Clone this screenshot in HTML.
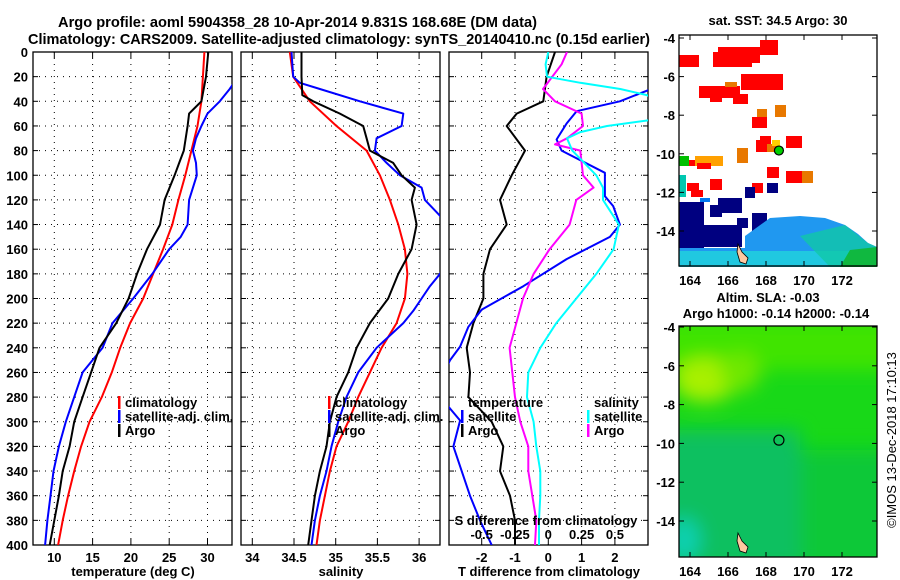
<!DOCTYPE html>
<html><head><meta charset="utf-8"><style>
body{margin:0;background:#fff;}
svg{display:block;font-family:"Liberation Sans",sans-serif;font-weight:bold;}
</style></head><body>
<svg id="c" width="900" height="580" viewBox="0 0 900 580" xmlns="http://www.w3.org/2000/svg">
<defs>
<clipPath id="cp1"><rect x="33" y="52" width="199" height="493"/></clipPath>
<clipPath id="cp2"><rect x="241" y="52" width="199" height="493"/></clipPath>
<clipPath id="cp3"><rect x="449" y="52" width="199" height="493"/></clipPath>
<clipPath id="cpm2"><rect x="679" y="326" width="198" height="231"/></clipPath>
<filter id="blur"><feGaussianBlur stdDeviation="9"/></filter>
</defs>
<text x="58" y="27" font-size="15" textLength="479" lengthAdjust="spacingAndGlyphs">Argo profile: aoml 5904358_28 10-Apr-2014 9.831S 168.68E (DM data)</text>
<text x="28" y="44" font-size="15" textLength="622" lengthAdjust="spacingAndGlyphs">Climatology: CARS2009. Satellite-adjusted climatology: synTS_20140410.nc (0.15d earlier)</text>
<g id="panels"></g>
<g id="maps"></g>
<text transform="translate(896,440) rotate(-90)" text-anchor="middle" font-size="13" font-weight="normal">©IMOS 13-Dec-2018 17:10:13</text>
</svg>
<script>
// ---- data ----
const depths = [0,20,40,60,80,100,120,140,160,180,200,220,240,260,280,300,320,340,360,380,400];
const tClim = [29.6,29.4,29.2,28.7,27.9,27.1,26.2,25.4,24.2,22.9,21.6,19.9,18.6,17.5,16.2,14.6,13.5,12.6,11.8,11.1,10.5];
const tSatDepths = [0,20,30,40,50,60,70,80,90,100,120,140,150,160,180,200,220,240,260,280,300,320,340,360,380,400];
const tSat = [35,34,32.9,31.6,30,29.2,28.5,28.1,28.5,28.6,27.6,27.4,26.5,25,22.8,20.3,17.6,16.3,13.7,12.6,11.5,10.6,9.9,9.5,9.1,8.8];
const tArgoDepths = [0,20,40,45,50,60,80,90,100,120,140,160,180,200,220,240,260,280,300,320,340,360,380,400];
const tArgo = [30.1,29.8,29.2,28.4,27.6,27.4,26.9,26.3,25.7,24.4,23.8,22.1,20.8,19.7,18.1,15.9,14.8,13.7,12.6,12,11.1,10.6,10,9.4];
const sClim = [34.45,34.49,34.69,35.01,35.37,35.53,35.65,35.75,35.83,35.86,35.83,35.73,35.55,35.41,35.27,35.15,35.01,34.93,34.87,34.81,34.77];
const sSatDepths = [0,20,25,30,40,50,60,70,80,90,100,110,120,130,140,160,180,190,200,210,220,240,260,280,300,320,340,360,380,400];
const sSat = [34.47,34.49,34.57,34.81,35.29,35.81,35.79,35.49,35.47,35.61,35.77,36.03,36.07,36.21,36.35,36.45,36.25,36.13,36.03,35.93,35.81,35.49,35.27,35.13,35.03,34.95,34.89,34.81,34.75,34.71];
const sArgoDepths = [0,20,35,40,50,60,70,80,90,100,110,120,140,160,180,200,220,240,260,280,300,320,340,360,380,400];
const sArgo = [34.59,34.59,34.6,34.73,35.05,35.33,35.37,35.41,35.69,35.79,35.95,35.91,35.97,35.91,35.75,35.63,35.41,35.25,35.15,35.01,34.93,34.89,34.81,34.75,34.71,34.67];
const dTArgoDepths = [0,20,40,50,60,80,100,120,140,160,180,200,220,240,260,280,300,320,340,360,380,400];
const dTArgo = [0.2,-0.05,-0.15,-0.95,-1.25,-0.7,-1.1,-1.45,-1.25,-1.75,-1.95,-1.95,-2.25,-2.45,-2.35,-2.4,-1.7,-1.35,-1.45,-1.15,-1.0,-1.0];
const dTSatDepths = [0,20,31,40,48,58,71,80,98,117,125,140,150,168,190,209,223,239,250,275,299,320,340,360,380,400];
const dTSat = [4,3.5,3,2.15,0.85,0.55,0.25,0.4,1.7,1.7,1.95,2.15,1.85,0.55,-0.75,-2,-2.4,-2.65,-2.95,-3.4,-2.65,-2.85,-2.6,-2.35,-2.05,-1.7];
const dSArgoDepths = [0,10,30,40,50,60,70,75,80,90,100,110,120,140,160,180,200,220,240,260,280,300,320,340,360,380,400];
const dSArgo = [0.14,0.10,-0.04,0.05,0.25,0.26,0.14,0.05,0.24,0.25,0.26,0.34,0.21,0.16,0.01,-0.11,-0.19,-0.24,-0.29,-0.27,-0.25,-0.21,-0.15,-0.15,-0.12,-0.09,-0.10];
const dSSatDepths = [0,10,20,25,30,35,45,55,60,65,70,80,100,110,120,140,160,180,200,220,240,260,280,300,320,340,360,380,400];
const dSSat = [0,-0.02,-0.01,0.24,0.54,0.74,0.9,0.78,0.44,0.24,0.14,0.18,0.36,0.41,0.41,0.53,0.49,0.36,0.21,0.06,-0.06,-0.15,-0.16,-0.11,-0.09,-0.06,-0.06,-0.07,-0.07];
const depthTicks = [0,20,40,60,80,100,120,140,160,180,200,220,240,260,280,300,320,340,360,380,400];
const tTicks = [10,15,20,25,30];
const sTicks = [34,34.5,35,35.5,36];
const dTTicks = [-2,-1,0,1,2];
const dSTicks = [-0.5,-0.25,0,0.25,0.5];
const lonTicks = [164,166,168,170,172];
const latTicks = [-4,-6,-8,-10,-12,-14];
const argoLon = 168.68, argoLat = -9.831;

// ---- axes ----
const NS="http://www.w3.org/2000/svg";
const yD = d => 52 + d*493/400;
const xT = t => 54.3 + (t-10)*7.66;
const xS = s => 252.3 + (s-34)*83.4;
const xDT = t => 548.3 + t*33.3;
const xDS = s => 548.3 + s*133.3;
const mx = lon => 690 + (lon-164)*19;
const myTop = lat => 38 + (-4-lat)*19.3;
const myBot = lat => 327 + (-4-lat)*19.4;

function el(tag, attrs, parent){const e=document.createElementNS(NS,tag);for(const k in attrs)e.setAttribute(k,attrs[k]);parent.appendChild(e);return e;}
function txt(parent,x,y,s,size,anchor){const t=el('text',{x:x,y:y,'font-size':size,'text-anchor':anchor||'start'},parent);t.textContent=s;return t;}

const P=document.getElementById('panels');
function panel(name,x0,ticks,xf,clip,label){
  const g=el('g',{},P);
  
  
  depthTicks.forEach(d=>{ if(d>0&&d<400){
    const l=el('line',{x1:x0,x2:x0+199,y1:yD(d),y2:yD(d),stroke:'#000','stroke-width':1,'stroke-dasharray':'1,5'},g);
    
    
    el('line',{x1:x0,x2:x0+5,y1:yD(d),y2:yD(d),stroke:'#000'},g);
    el('line',{x1:x0+194,x2:x0+199,y1:yD(d),y2:yD(d),stroke:'#000'},g);
  }});
  ticks.forEach(t=>{const x=xf(t);
    const l=el('line',{x1:x,x2:x,y1:52,y2:545,stroke:'#000','stroke-dasharray':'1,5'},g);
    
    
    el('line',{x1:x,x2:x,y1:52,y2:58,stroke:'#000'},g);
    el('line',{x1:x,x2:x,y1:539,y2:545,stroke:'#000'},g);
    const tl=txt(g,x,562,String(t),13,'middle');
    
    
  });
  const fr=el('rect',{x:x0,y:52,width:199,height:493,fill:'none',stroke:'#000','stroke-width':1.3},g);
  
  
  const xl=txt(g,x0+100,576,label,13,'middle');
  
  
  const cg=el('g',{'clip-path':'url(#'+clip+')'},g);
  return cg;
}
function series(g,name,ds,vs,xf,color,w){
  const pts=ds.map((d,i)=>xf(vs[i]).toFixed(1)+','+yD(d).toFixed(1)).join(' ');
  const p=el('polyline',{points:pts,fill:'none',stroke:color,'stroke-width':w||2,'stroke-linejoin':'round'},g);
  
  
}
function legend(parent,x,y,color,label){
  const g=el('g',{},parent);
  
  
  if(color) el('rect',{x:x-7,y:y-11,width:2.5,height:13,fill:color},g);
  txt(g,x,y,label,13);
}

// y labels
depthTicks.forEach(d=>{const t=txt(P,28,yD(d)+5,String(d),13,'end');
  
  });

const g1=panel('temperature-panel',33,tTicks,xT,'cp1','temperature (deg C)');
series(g1,'temp-climatology',depths,tClim,xT,'#ff0000');
series(g1,'temp-satellite-adj',tSatDepths,tSat,xT,'#0000ff');
series(g1,'temp-argo',tArgoDepths,tArgo,xT,'#000000');
legend(P,125,407,'#ff0000','climatology');
legend(P,125,421,'#0000ff','satellite-adj. clim.');
legend(P,125,435,'#000000','Argo');

const g2=panel('salinity-panel',241,sTicks,xS,'cp2','salinity');
series(g2,'sal-climatology',depths,sClim,xS,'#ff0000');
series(g2,'sal-satellite-adj',sSatDepths,sSat,xS,'#0000ff');
series(g2,'sal-argo',sArgoDepths,sArgo,xS,'#000000');
legend(P,335,407,'#ff0000','climatology');
legend(P,335,421,'#0000ff','satellite-adj. clim.');
legend(P,335,435,'#000000','Argo');

const g3=panel('difference-panel',449,dTTicks,xDT,'cp3','T difference from climatology');
series(g3,'dt-argo',dTArgoDepths,dTArgo,xDT,'#000000');
series(g3,'dt-satellite',dTSatDepths,dTSat,xDT,'#0000ff');
series(g3,'ds-argo',dSArgoDepths,dSArgo,xDS,'#ff00ff');
series(g3,'ds-satellite',dSSatDepths,dSSat,xDS,'#00ffff');
legend(P,468,407,null,'temperature');
legend(P,468,421,'#0000ff','satellite');
legend(P,468,435,'#000000','Argo');
legend(P,594,407,null,'salinity');
legend(P,594,421,'#00ffff','satellite');
legend(P,594,435,'#ff00ff','Argo');
const st=txt(P,546,525,'S difference from climatology',13,'middle');


dSTicks.forEach(s=>{const t=txt(P,xDS(s),539,String(s),13,'middle');
  
  });

// ---- maps ----
const M=document.getElementById('maps');
function mapAxes(g,top,yf){
  lonTicks.forEach(l=>{const x=mx(l);
    el('line',{x1:x,x2:x,y1:top,y2:top+5,stroke:'#000'},g);
    el('line',{x1:x,x2:x,y1:top+226,y2:top+231,stroke:'#000'},g);
    const t=txt(g,x,top+250,String(l),13,'middle');
    
    });
  latTicks.forEach(l=>{const y=yf(l);
    el('line',{x1:679,x2:684,y1:y,y2:y,stroke:'#000'},g);
    el('line',{x1:872,x2:877,y1:y,y2:y,stroke:'#000'},g);
    const t=txt(g,675,y+5,String(l),13,'end');
    
    });
  el('rect',{x:679,y:top,width:198,height:231,fill:'none',stroke:'#000','stroke-width':1.3},g);
}
// top SST map
const m1=el('g',{},M);


txt(m1,778,25,'sat. SST: 34.5 Argo: 30',13,'middle');
const cells=[
['#ff0000',760,40,18,15],['#ff0000',718,47,42,16],['#ff0000',713,52,39,15],['#ff0000',679,55,20,12],
['#ff0000',741,74,42,16],['#ff0000',699,86,41,12],['#ff0000',710,93,12,9],['#ff0000',733,94,15,10],
['#ff0000',752,117,15,11],['#ff0000',760,136,11,8],['#ff0000',756,140,11,12],['#ff0000',786,136,16,12],
['#ff0000',767,167,12,11],['#ff0000',786,171,17,12],['#ff0000',687,183,12,8],['#ff0000',691,190,12,7],
['#ff0000',710,179,12,11],['#ff0000',752,183,11,10],
['#e87800',757,109,10,8],['#e87800',775,105,11,12],['#e87800',737,148,11,15],['#e87800',802,171,11,12],['#e87800',725,82,12,5],['#e87800',767,144,12,8],['#ffd000',772,140,8,6],
['#ff0000',679,160,44,6],['#ffa000',695,156,28,10],['#00c000',679,156,10,10],['#ff0000',697,163,14,6],
['#000080',679,202,25,48],['#000080',680,225,62,22],['#000080',718,198,24,15],['#000080',710,205,12,12],
['#000080',737,218,11,10],['#000080',752,213,15,19],['#000080',767,183,11,10],['#000080',745,187,10,11],
['#00c8b0',679,175,7,22],['#0078f0',700,198,10,4]];
cells.forEach(c=>{const r=el('rect',{x:c[1],y:c[2],width:c[3],height:c[4],fill:c[0]},m1);
  
  });
el('polygon',{points:'745,236 770,218 800,216 825,218 845,225 858,234 868,243 877,247 877,267 679,267 679,248 745,248',fill:'#2098f0'},m1);
el('rect',{x:679,y:251,width:198,height:16,fill:'#20c8e0'},m1);
el('polygon',{points:'800,236 845,225 868,243 877,247 877,267 830,267',fill:'#10c8a8',opacity:0.8},m1);
el('polygon',{points:'850,250 877,247 877,267 840,267',fill:'#10b840'},m1);
el('path',{d:'M738,244 l4,8 l6,6 l-2,6 l-6,-2 l-3,-10 z',fill:'#ffc8a0',stroke:'#000','stroke-width':0.8},m1);
const d1=el('circle',{cx:mx(argoLon),cy:myTop(argoLat),r:4.5,fill:'#00d000',stroke:'#000','stroke-width':1.2},m1);


mapAxes(m1,35,myTop);

// bottom SLA map
const m2=el('g',{},M);


txt(m2,768,302,'Altim. SLA: -0.03',13,'middle');
txt(m2,776,318,'Argo h1000: -0.14 h2000: -0.14',13,'middle');
const cg=el('g',{'clip-path':'url(#cpm2)'},m2);
el('rect',{x:679,y:326,width:198,height:231,fill:'#18d818'},cg);
const bg=el('g',{filter:'url(#blur)'},cg);
el('rect',{x:660,y:320,width:240,height:50,fill:'#40e400'},bg);
el('ellipse',{cx:705,cy:380,rx:32,ry:22,fill:'#a8f000'},bg);
el('ellipse',{cx:740,cy:372,rx:20,ry:20,fill:'#70e800'},bg);
el('rect',{x:660,y:430,width:140,height:140,fill:'#10c060'},bg);
el('rect',{x:800,y:450,width:100,height:120,fill:'#10c838'},bg);
el('ellipse',{cx:684,cy:540,rx:16,ry:22,fill:'#10d0b0'},bg);
el('path',{d:'M738,533 l4,8 l6,6 l-2,6 l-6,-2 l-3,-10 z',fill:'#ffc8a0',stroke:'#000','stroke-width':0.8},cg);
const d2=el('circle',{cx:mx(argoLon),cy:myBot(argoLat),r:5,fill:'none',stroke:'#000','stroke-width':1.2},m2);


mapAxes(m2,326,myBot);
</script>
</body></html>
